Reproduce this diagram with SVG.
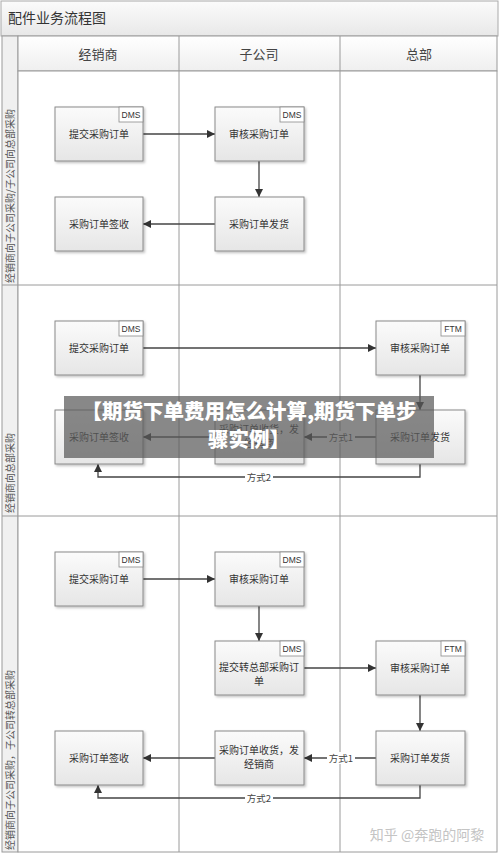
<svg xmlns="http://www.w3.org/2000/svg" width="500" height="856" viewBox="0 0 500 856">
<style>
.t{font-family:"Noto Sans CJK SC","Liberation Sans",sans-serif;fill:#333;}
.n{font-size:10px;text-anchor:middle;}
.h{font-size:13px;text-anchor:middle;fill:#444;}
.lane{font-size:10px;fill:#555;}
.box{fill:url(#bg);stroke:#8a8a8a;stroke-width:1;}
.tag{fill:#fff;stroke:#8a8a8a;stroke-width:0.8;}
.tg{font-family:"Liberation Sans",sans-serif;font-size:8.5px;text-anchor:middle;fill:#333;}
.c{stroke:#444;stroke-width:1.3;fill:none;}
.grid{stroke:#9a9a9a;stroke-width:1;fill:none;}
.lbl{font-size:9.5px;text-anchor:middle;fill:#444;}
</style>
<defs>
<linearGradient id="bg" x1="0" y1="0" x2="0" y2="1"><stop offset="0" stop-color="#fbfbfb"/><stop offset="1" stop-color="#e6e6e6"/></linearGradient>
<linearGradient id="tb" x1="0" y1="0" x2="0" y2="1"><stop offset="0" stop-color="#fbfbfb"/><stop offset="1" stop-color="#e8e8e8"/></linearGradient>
<linearGradient id="hb" x1="0" y1="0" x2="0" y2="1"><stop offset="0" stop-color="#ffffff"/><stop offset="1" stop-color="#efefef"/></linearGradient>
<marker id="ah" viewBox="0 0 10 10" refX="10" refY="5" markerWidth="8" markerHeight="8" markerUnits="userSpaceOnUse" orient="auto"><path d="M0,0 L10,5 L0,10 z" fill="#333"/></marker>
<filter id="sh" x="-10%" y="-10%" width="130%" height="130%"><feDropShadow dx="1.5" dy="1.5" stdDeviation="0.8" flood-color="#000" flood-opacity="0.25"/></filter>
</defs>
<rect x="0" y="0" width="500" height="856" fill="#fff"/>
<g id="frame">
<rect x="1" y="1" width="497" height="35" fill="url(#tb)" stroke="#aaa"/>
<text class="t" x="8" y="23" font-size="14" fill="#333">配件业务流程图</text>
<rect x="2" y="36" width="16" height="816" fill="#f0f0f0" stroke="#9a9a9a"/>
<rect x="18" y="36" width="479" height="35" fill="url(#hb)" stroke="#9a9a9a"/>
<rect x="18" y="71" width="479" height="781" fill="#fff" stroke="#9a9a9a"/>
<line class="grid" x1="179" y1="36" x2="179" y2="852"/>
<line class="grid" x1="340" y1="36" x2="340" y2="852"/>
<line class="grid" x1="2" y1="285" x2="497" y2="285"/>
<line class="grid" x1="2" y1="516" x2="497" y2="516"/>
<text class="t h" x="98" y="59">经销商</text>
<text class="t h" x="259" y="59">子公司</text>
<text class="t h" x="419" y="59">总部</text>
<text class="t lane" transform="translate(13.5,283) rotate(-90)">经销商向子公司采购/子公司向总部采购</text>
<text class="t lane" transform="translate(13.5,513) rotate(-90)">经销商向总部采购</text>
<text class="t lane" transform="translate(13.5,850) rotate(-90)">经销商向子公司采购，子公司转总部采购</text>
</g>
<g id="connectors">
<line class="c" x1="143" y1="134" x2="215" y2="134" marker-end="url(#ah)"/>
<line class="c" x1="259" y1="161" x2="259" y2="197" marker-end="url(#ah)"/>
<line class="c" x1="215" y1="224" x2="143" y2="224" marker-end="url(#ah)"/>
<line class="c" x1="143" y1="348" x2="376" y2="348" marker-end="url(#ah)"/>
<line class="c" x1="420" y1="375" x2="420" y2="410" marker-end="url(#ah)"/>
<line class="c" x1="376" y1="437" x2="304" y2="437" marker-end="url(#ah)"/>
<line class="c" x1="215" y1="437" x2="143" y2="437" marker-end="url(#ah)"/>
<polyline class="c" points="420,464 420,477 98,477 98,464" marker-end="url(#ah)"/>
<line class="c" x1="143" y1="579" x2="215" y2="579" marker-end="url(#ah)"/>
<line class="c" x1="259" y1="606" x2="259" y2="641" marker-end="url(#ah)"/>
<line class="c" x1="304" y1="668" x2="376" y2="668" marker-end="url(#ah)"/>
<line class="c" x1="420" y1="695" x2="420" y2="731" marker-end="url(#ah)"/>
<line class="c" x1="376" y1="758" x2="304" y2="758" marker-end="url(#ah)"/>
<line class="c" x1="215" y1="758" x2="143" y2="758" marker-end="url(#ah)"/>
<polyline class="c" points="420,785 420,798 98,798 98,785" marker-end="url(#ah)"/>
<rect x="327" y="431" width="28" height="12" fill="#fff"/>
<text class="t lbl" x="341" y="441">方式1</text>
<rect x="245" y="471" width="28" height="12" fill="#fff"/>
<text class="t lbl" x="259" y="481">方式2</text>
<rect x="327" y="752" width="28" height="12" fill="#fff"/>
<text class="t lbl" x="341" y="762">方式1</text>
<rect x="245" y="792" width="28" height="12" fill="#fff"/>
<text class="t lbl" x="259" y="802">方式2</text>
</g>
<g id="n1"><rect class="box" filter="url(#sh)" x="55" y="107" width="88" height="54"/><rect class="tag" x="119" y="107" width="24" height="15"/><text class="tg" x="131" y="118">DMS</text><text class="t n" x="99" y="138">提交采购订单</text></g>
<g id="n2"><rect class="box" filter="url(#sh)" x="215" y="107" width="89" height="54"/><rect class="tag" x="280" y="107" width="24" height="15"/><text class="tg" x="292" y="118">DMS</text><text class="t n" x="259" y="138">审核采购订单</text></g>
<g id="n3"><rect class="box" filter="url(#sh)" x="55" y="197" width="88" height="54"/><text class="t n" x="99" y="228">采购订单签收</text></g>
<g id="n4"><rect class="box" filter="url(#sh)" x="215" y="197" width="89" height="54"/><text class="t n" x="259" y="228">采购订单发货</text></g>
<g id="n5"><rect class="box" filter="url(#sh)" x="55" y="321" width="88" height="54"/><rect class="tag" x="119" y="321" width="24" height="15"/><text class="tg" x="131" y="332">DMS</text><text class="t n" x="99" y="352">提交采购订单</text></g>
<g id="n6"><rect class="box" filter="url(#sh)" x="376" y="321" width="89" height="54"/><rect class="tag" x="441" y="321" width="24" height="15"/><text class="tg" x="453" y="332">FTM</text><text class="t n" x="420" y="352">审核采购订单</text></g>
<g id="n7"><rect class="box" filter="url(#sh)" x="55" y="410" width="88" height="54"/><text class="t n" x="99" y="441">采购订单签收</text></g>
<g id="n8"><rect class="box" filter="url(#sh)" x="215" y="410" width="89" height="54"/><text class="t n" x="259" y="433">采购订单收货，发</text><text class="t n" x="259" y="447">经销商</text></g>
<g id="n9"><rect class="box" filter="url(#sh)" x="376" y="410" width="89" height="54"/><text class="t n" x="420" y="441">采购订单发货</text></g>
<g id="n10"><rect class="box" filter="url(#sh)" x="55" y="552" width="88" height="54"/><rect class="tag" x="119" y="552" width="24" height="15"/><text class="tg" x="131" y="563">DMS</text><text class="t n" x="99" y="583">提交采购订单</text></g>
<g id="n11"><rect class="box" filter="url(#sh)" x="215" y="552" width="89" height="54"/><rect class="tag" x="280" y="552" width="24" height="15"/><text class="tg" x="292" y="563">DMS</text><text class="t n" x="259" y="583">审核采购订单</text></g>
<g id="n12"><rect class="box" filter="url(#sh)" x="215" y="641" width="89" height="54"/><rect class="tag" x="280" y="641" width="24" height="15"/><text class="tg" x="292" y="652">DMS</text><text class="t n" x="259" y="671">提交转总部采购订</text><text class="t n" x="259" y="685">单</text></g>
<g id="n13"><rect class="box" filter="url(#sh)" x="376" y="641" width="89" height="54"/><rect class="tag" x="441" y="641" width="24" height="15"/><text class="tg" x="453" y="652">FTM</text><text class="t n" x="420" y="672">审核采购订单</text></g>
<g id="n14"><rect class="box" filter="url(#sh)" x="55" y="731" width="88" height="54"/><text class="t n" x="99" y="762">采购订单签收</text></g>
<g id="n15"><rect class="box" filter="url(#sh)" x="215" y="731" width="89" height="54"/><text class="t n" x="259" y="754">采购订单收货，发</text><text class="t n" x="259" y="768">经销商</text></g>
<g id="n16"><rect class="box" filter="url(#sh)" x="376" y="731" width="89" height="54"/><text class="t n" x="420" y="762">采购订单发货</text></g>
<g id="overlay">
<rect x="64" y="396" width="370" height="62" fill="#5a5a5a" fill-opacity="0.72"/>
<text class="t" x="249" y="419" font-size="20.5" font-weight="900" text-anchor="middle" style="fill:#fff">【期货下单费用怎么计算,期货下单步</text>
<text class="t" x="249" y="447" font-size="20.5" font-weight="900" text-anchor="middle" style="fill:#fff">骤实例】</text>
<text class="t" x="427" y="840" font-size="14" text-anchor="middle" style="fill:#c4c4c4">知乎 @奔跑的阿黎</text>
</g>
</svg>
